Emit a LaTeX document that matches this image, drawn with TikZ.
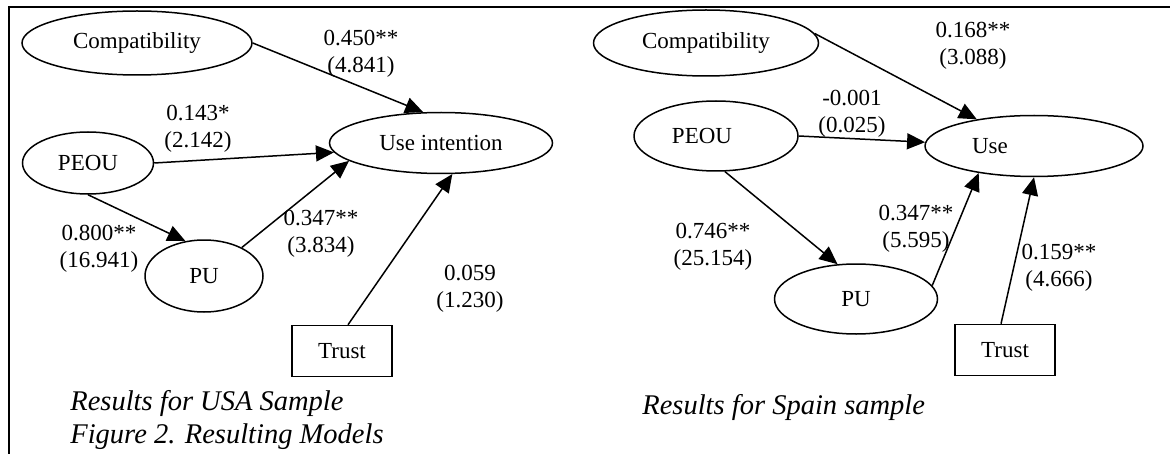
\documentclass[tikz,border=0pt]{standalone}
\usepackage{fontspec}
\setmainfont{Liberation Serif}
\usetikzlibrary{arrows.meta,shapes.geometric}

\begin{document}
\begin{tikzpicture}[x=0.5pt, y=-0.5pt,
    font=\fontsize{11.5}{13.5}\selectfont,
    lat/.style={ellipse, draw, line width=0.75pt, inner sep=0pt},
    obs/.style={rectangle, draw, line width=0.75pt, minimum width=50pt, minimum height=25.5pt},
    est/.style={align=center, inner sep=0pt},
    path/.style={line width=0.75pt, -{Triangle[length=9pt,width=8pt]}},
    capt/.style={anchor=west, inner sep=0pt, font=\fontsize{14.25}{17}\selectfont\itshape}]
    \useasboundingbox (0,0) rectangle (1170,454);
    \draw[line width=1.2pt] (9,454) -- (9,7) -- (1170,7);
    % USA sample
    \node[lat, minimum width=115pt, minimum height=32pt] (c1) at (137,43) {Compatibility};
    \node[lat, minimum width=65.5pt, minimum height=31pt] (e1) at (88,163) {PEOU};
    \node[lat, minimum width=59pt, minimum height=36pt] (p1) at (204,276) {PU};
    \node[lat, minimum width=111.5pt, minimum height=30.5pt] (ui) at (441,143) {Use intention};
    \node[obs] (t1) at (342,351) {Trust};
    \node[est] (l1) at (361,53.5) {0.450**\\(4.841)};
    \node[est] (l2) at (198,128.5) {0.143*\\(2.142)};
    \node[est] (l3) at (99,248.5) {0.800**\\(16.941)};
    \node[est] (l4) at (321,233.5) {0.347**\\(3.834)};
    \node[est] (l5) at (470,288.5) {0.059\\(1.230)};
    \draw[path] (c1.east) -- (ui.120);
    \draw[path] (e1.east) -- (ui.185);
    \draw[path] (e1.south) -- (p1.118);
    \draw[path] (p1.37) -- (ui.191);
    \draw[path] ([xshift=3pt]t1.north) -- (ui.290);
    \node[capt] (r1) at (70,403) {Results for USA Sample};
    \node[capt] (fig) at (70,437) {Figure 2. Resulting Models};
    % Spain sample
    \node[lat, minimum width=112.5pt, minimum height=33pt] (c2) at (706,43) {Compatibility};
    \node[lat, minimum width=82pt, minimum height=35pt,
          label={[xshift=-7pt]center:PEOU}] (e2) at (716,136) {};
    \node[lat, minimum width=81.5pt, minimum height=35pt] (p2) at (856,299) {PU};
    \node[lat, minimum width=109pt, minimum height=30.5pt,
          label={[xshift=-22pt]center:Use}] (u) at (1034,146) {};
    \node[obs] (t2) at (1005,350) {Trust};
    \node[est] (m1) at (973,45.5) {0.168**\\(3.088)};
    \node[est] (m2) at (852,113.5) {-0.001\\(0.025)};
    \node[est] (m3) at (713,246.5) {0.746**\\(25.154)};
    \node[est] (m4) at (916,228.5) {0.347**\\(5.595)};
    \node[est] (m5) at (1059,267.5) {0.159**\\(4.666)};
    \draw[path] (c2.5) -- (u.155);
    \draw[path] (e2.east) -- (u.178);
    \draw[path] (e2.284) -- (p2.118);
    \draw[path] (p2.10) -- (u.206);
    \draw[path] ([xshift=-2pt]t2.north) -- (u.south);
    \node[capt] (r2) at (642,407) {Results for Spain sample};
\end{tikzpicture}
\end{document}
